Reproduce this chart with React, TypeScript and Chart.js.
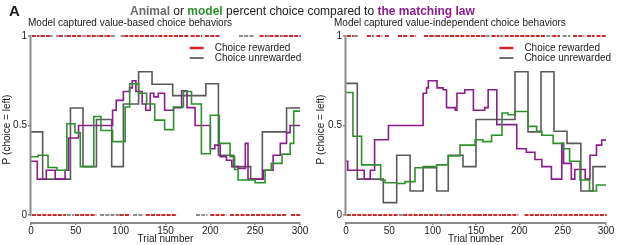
import React, { useEffect, useRef } from "react";
import { Chart, registerables } from "chart.js";

Chart.register(...registerables);

const FONT = '"Liberation Sans", Arial, Helvetica, sans-serif';
const GRAY_LINE = "#5a5a5a";
const GREEN = "#2f8f2f";
const PURPLE = "#8a1d8a";
const RED = "#cc2a2a";
const RASTER_GRAY = "#8c8c8c";
const AXIS = "#8a8a8a";
const TEXT = "#1a1a1a";

const xTicks = [0, 50, 100, 150, 200, 250, 300];
const yTicks = [0, 0.5, 1];
const yTickLabels = ["0", "0.5", "1"];
const legendLabels = ["Choice rewarded", "Choice unrewarded"];
const panelTitles = [
  "Model captured value-based choice behaviors",
  "Model captured value-independent choice behaviors",
];

// ---- Left panel (value-based) : step change points (trial) and P(choice = left)
const leftAnimalT = [0, 13, 44, 58, 73, 90, 103, 120, 135, 158, 195, 209, 226, 245, 258, 285];
const leftAnimalP = [0.464, 0.2, 0.598, 0.27, 0.533, 0.27, 0.62, 0.8, 0.73, 0.667, 0.733, 0.334, 0.27, 0.2, 0.464, 0.598];

const leftModelT = [0, 8, 19, 29, 40, 49, 55, 70, 78, 91, 105, 110, 120, 129, 138, 149, 159, 170, 179, 190, 200, 210, 222, 227, 231, 250, 261, 268, 280, 289, 293];
const leftModelP = [0.325, 0.334, 0.265, 0.25, 0.51, 0.46, 0.27, 0.55, 0.472, 0.41, 0.603, 0.733, 0.68, 0.62, 0.53, 0.477, 0.603, 0.69, 0.62, 0.342, 0.557, 0.4, 0.325, 0.254, 0.195, 0.18, 0.25, 0.288, 0.34, 0.4, 0.58];

const leftMatchT = [0, 7, 17, 27, 38, 42, 53, 91, 95, 103, 110, 113, 117, 124, 128, 133, 137, 142, 149, 159, 168, 174, 183, 200, 205, 211, 218, 224, 231, 239, 242, 259, 270, 278, 285, 289];
const leftMatchP = [0.3, 0.2, 0.25, 0.2, 0.25, 0.43, 0.5, 0.585, 0.64, 0.69, 0.71, 0.75, 0.69, 0.62, 0.585, 0.68, 0.66, 0.68, 0.585, 0.6, 0.694, 0.6, 0.5, 0.37, 0.39, 0.325, 0.306, 0.27, 0.26, 0.4, 0.2, 0.25, 0.334, 0.4, 0.46, 0.5];

// choice rasters (trial runs): top row = left choice, bottom row = right choice
const leftTopRewarded = [[1, 8], [11, 20], [31, 36], [40, 57], [62, 72], [76, 80], [84, 88], [104, 140], [142, 175], [178, 190], [194, 210], [255, 262], [266, 278], [282, 300]];
const leftTopUnrewarded = [[9, 10], [21, 23], [28, 30], [37, 39], [58, 60], [73, 75], [81, 83], [89, 93], [100, 103], [232, 248], [263, 265], [279, 281]];
const leftBottomRewarded = [[1, 38], [49, 72], [99, 110], [128, 162], [200, 217], [222, 284], [290, 300]];
const leftBottomUnrewarded = [[40, 47], [77, 98], [114, 125], [184, 196]];

// ---- Right panel (value-independent)
const rightAnimalT = [0, 13, 43, 58.5, 74, 89, 104.6, 118, 135, 150, 195, 210, 225, 240, 255, 271, 285];
const rightAnimalP = [0.735, 0.2, 0.069, 0.334, 0.134, 0.264, 0.134, 0.334, 0.27, 0.533, 0.8, 0.464, 0.8, 0.468, 0.4, 0.134, 0.27];

const rightModelT = [0, 8, 18, 40, 45, 58.5, 68, 79.6, 89, 104.6, 118, 131.5, 149, 158, 168, 180, 187, 195, 210, 220, 226, 239, 251, 258, 270, 281, 289];
const rightModelP = [0.684, 0.44, 0.28, 0.195, 0.18, 0.176, 0.186, 0.264, 0.27, 0.28, 0.33, 0.39, 0.42, 0.41, 0.445, 0.57, 0.56, 0.578, 0.495, 0.468, 0.445, 0.4, 0.37, 0.3, 0.195, 0.134, 0.167];

const rightMatchT = [0, 2, 11, 21, 28, 33, 49, 89, 93, 95, 105, 112, 116, 126, 128, 137, 147, 160, 164, 174, 197, 208, 218, 226, 237, 249, 251, 260, 264, 276, 281.5, 289, 295];
const rightMatchP = [0.3, 0.25, 0.25, 0.2, 0.25, 0.42, 0.5, 0.68, 0.71, 0.75, 0.71, 0.7, 0.6, 0.585, 0.68, 0.7, 0.585, 0.6, 0.7, 0.505, 0.37, 0.35, 0.31, 0.27, 0.2, 0.4, 0.288, 0.2, 0.254, 0.2, 0.334, 0.39, 0.418];

const rightTopRewarded = [[1, 8], [24, 31], [35, 41], [45, 49], [60, 70], [74, 80], [90, 100], [104, 112], [114, 160], [168, 176], [183, 230], [238, 246], [262, 274], [278, 286], [289, 299]];
const rightTopUnrewarded = [[9, 14], [101, 103], [161, 167], [177, 182], [231, 237], [250, 258]];
const rightBottomRewarded = [[1, 60], [66, 110], [116, 178], [180, 198], [206, 237], [239, 300]];
const rightBottomUnrewarded = [[61, 65], [111, 115], [150, 156]];

function stepPoints(ts: number[], ps: number[]) {
  const pts = ts.map((t, i) => ({ x: t, y: ps[i] }));
  pts.push({ x: 300, y: ps[ps.length - 1] });
  return pts;
}

function runPoints(runs: number[][], y: number) {
  const pts: { x: number; y: number | null }[] = [];
  runs.forEach(([a, b]) => {
    pts.push({ x: a, y }, { x: b + 0.9, y }, { x: b + 0.9, y: null });
  });
  return pts;
}

const axisLinePlugin = {
  id: "axisLines",
  afterDraw(chart: any) {
    const { ctx, scales } = chart;
    const x = scales.x;
    const y = scales.y;
    const ax = x.getPixelForValue(0) - 0.5;
    ctx.save();
    ctx.strokeStyle = AXIS;
    ctx.lineWidth = 2;
    ctx.setLineDash([]);
    ctx.beginPath();
    ctx.moveTo(ax, y.getPixelForValue(0) + 1);
    ctx.lineTo(ax, y.getPixelForValue(1) - 1);
    ctx.stroke();
    ctx.restore();
  },
};

const legendPlugin = {
  id: "choiceLegend",
  afterDraw(chart: any) {
    const { ctx, chartArea, scales } = chart;
    const x0 = scales.x.getPixelForValue(177);
    const rows = [
      { c: RED, w: 2.5 },
      { c: "#6e6e6e", w: 2 },
    ];
    ctx.save();
    ctx.font = `10px ${FONT}`;
    ctx.textBaseline = "middle";
    ctx.textAlign = "left";
    ctx.fillStyle = TEXT;
    rows.forEach((r, i) => {
      const yy = chartArea.top + 12 + i * 10;
      ctx.strokeStyle = r.c;
      ctx.lineWidth = r.w;
      ctx.setLineDash([]);
      ctx.beginPath();
      ctx.moveTo(x0, yy);
      ctx.lineTo(x0 + 14, yy);
      ctx.stroke();
      ctx.fillText(legendLabels[i], x0 + 25, yy);
    });
    ctx.restore();
  },
};

type PanelProps = {
  left: number;
  width: number;
  yAxisWidth: number;
  padRight: number;
  yTitlePad: number;
  animalT: number[];
  animalP: number[];
  modelT: number[];
  modelP: number[];
  matchT: number[];
  matchP: number[];
  topRew: number[][];
  topUnrew: number[][];
  botRew: number[][];
  botUnrew: number[][];
};

function Panel(p: PanelProps) {
  const ref = useRef<HTMLCanvasElement>(null);
  useEffect(() => {
    const rasterBase = {
      pointRadius: 0,
      borderWidth: 2,
      borderDash: [4, 1.2],
      spanGaps: false,
      clip: false as any,
    };
    const lineBase = {
      pointRadius: 0,
      borderWidth: 1.6,
      stepped: true as any,
      fill: false,
    };
    const chart = new Chart(ref.current as HTMLCanvasElement, {
      type: "line",
      data: {
        datasets: [
          { ...lineBase, label: "model", data: stepPoints(p.modelT, p.modelP), borderColor: GREEN, order: 0 },
          { ...lineBase, label: "matching law", data: stepPoints(p.matchT, p.matchP), borderColor: PURPLE, order: 1 },
          { ...lineBase, label: "animal", data: stepPoints(p.animalT, p.animalP), borderColor: GRAY_LINE, order: 2 },
          { ...rasterBase, label: "top rewarded", data: runPoints(p.topRew, 1), borderColor: RED, order: 3 },
          { ...rasterBase, label: "top unrewarded", data: runPoints(p.topUnrew, 1), borderColor: RASTER_GRAY, order: 4 },
          { ...rasterBase, label: "bottom rewarded", data: runPoints(p.botRew, 0), borderColor: RED, order: 3 },
          { ...rasterBase, label: "bottom unrewarded", data: runPoints(p.botUnrew, 0), borderColor: RASTER_GRAY, order: 4 },
        ] as any,
      },
      options: {
        animation: false,
        responsive: false,
        maintainAspectRatio: false,
        events: [],
        layout: { padding: { top: 36, right: p.padRight, left: 0, bottom: 0 } },
        plugins: {
          legend: { display: false },
          tooltip: { enabled: false },
          title: { display: false },
        },
        scales: {
          x: {
            type: "linear",
            min: 0,
            max: 300,
            afterBuildTicks: (s: any) => {
              s.ticks = xTicks.map((v) => ({ value: v }));
            },
            ticks: {
              autoSkip: false,
              maxRotation: 0,
              padding: 0,
              color: TEXT,
              font: { family: FONT, size: 10 },
            },
            grid: { drawOnChartArea: false, drawTicks: true, tickLength: 2, color: AXIS, lineWidth: 1.5 },
            border: { display: true, color: AXIS, width: 2 },
            title: {
              display: true,
              text: "Trial number",
              color: TEXT,
              font: { family: FONT, size: 10 },
              padding: { top: 0, bottom: 0 },
            },
            afterFit: (s: any) => {
              s.height = 22;
            },
          },
          y: {
            type: "linear",
            min: -0.045,
            max: 1,
            afterBuildTicks: (s: any) => {
              s.ticks = yTicks.map((v) => ({ value: v }));
            },
            ticks: {
              padding: 1,
              color: TEXT,
              font: { family: FONT, size: 10 },
              callback: (v: any) => yTickLabels[yTicks.indexOf(Number(v))],
            },
            grid: { drawOnChartArea: false, drawTicks: true, tickLength: 3, color: AXIS, lineWidth: 1.5 },
            border: { display: false },
            title: {
              display: true,
              text: "P (choice = left)",
              color: TEXT,
              font: { family: FONT, size: 10 },
              padding: { top: p.yTitlePad, bottom: 0 },
            },
            afterFit: (s: any) => {
              s.width = p.yAxisWidth;
            },
          },
        },
      } as any,
      plugins: [axisLinePlugin, legendPlugin],
    });
    return () => chart.destroy();
  }, []);
  return (
    <canvas
      ref={ref}
      width={p.width}
      height={245}
      style={{ position: "absolute", left: p.left, top: 0, width: p.width, height: 245 }}
    />
  );
}

export default function App() {
  const bold = { fontWeight: "bold" as const };
  return (
    <div
      style={{
        position: "absolute",
        left: 0,
        top: 0,
        width: 617,
        height: 245,
        background: "#fff",
        fontFamily: FONT,
        color: TEXT,
        overflow: "hidden",
      }}
    >
      <Panel
        left={0}
        width={310}
        yAxisWidth={31}
        padRight={10}
        yTitlePad={1}
        animalT={leftAnimalT}
        animalP={leftAnimalP}
        modelT={leftModelT}
        modelP={leftModelP}
        matchT={leftMatchT}
        matchP={leftMatchP}
        topRew={leftTopRewarded}
        topUnrew={leftTopUnrewarded}
        botRew={leftBottomRewarded}
        botUnrew={leftBottomUnrewarded}
      />
      <Panel
        left={313}
        width={304}
        yAxisWidth={33}
        padRight={11}
        yTitlePad={2}
        animalT={rightAnimalT}
        animalP={rightAnimalP}
        modelT={rightModelT}
        modelP={rightModelP}
        matchT={rightMatchT}
        matchP={rightMatchP}
        topRew={rightTopRewarded}
        topUnrew={rightTopUnrewarded}
        botRew={rightBottomRewarded}
        botUnrew={rightBottomUnrewarded}
      />
      <div style={{ position: "absolute", left: 9, top: 3, fontSize: 15, lineHeight: "15px", ...bold }}>A</div>
      <div
        style={{
          position: "absolute",
          left: 130,
          top: 5,
          fontSize: 12,
          lineHeight: "12px",
          whiteSpace: "nowrap",
        }}
      >
        <span style={{ ...bold, color: "#6a6a6a" }}>Animal</span>
        <span> or </span>
        <span style={{ ...bold, color: GREEN }}>model</span>
        <span> percent choice compared to </span>
        <span style={{ ...bold, color: PURPLE }}>the matching law</span>
      </div>
      <div style={{ position: "absolute", left: 28, top: 18, fontSize: 10, lineHeight: "10px", whiteSpace: "nowrap" }}>
        {panelTitles[0]}
      </div>
      <div style={{ position: "absolute", left: 334, top: 18, fontSize: 10, lineHeight: "10px", whiteSpace: "nowrap" }}>
        {panelTitles[1]}
      </div>
    </div>
  );
}
